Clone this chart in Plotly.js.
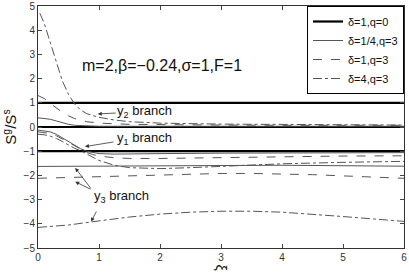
<!DOCTYPE html>
<html><head><meta charset="utf-8">
<script src="https://cdn.plot.ly/plotly-3.0.1.min.js"></script>
<style>html,body{margin:0;padding:0;background:#fff}#c{width:409px;height:273px}</style>
</head><body><div id="c"></div>
<script>
// delta=1, q=0 : three constant branches
const q0X = [0, 6];
const q0Y2 = [1, 1];
const q0Y1 = [0, 0];
const q0Y3 = [-1, -1];

// delta=1/4, q=3
const aY2x = [0,0.1,0.2,0.3,0.4,0.5,0.6,0.8,1.0,1.5,2,3,4,5,6];
const aY2y = [0.38,0.36,0.32,0.25,0.17,0.11,0.07,0.04,0.03,0.03,0.03,0.03,0.03,0.03,0.03];
const aY1x = [0,0.1,0.2,0.3,0.4,0.5,0.6,0.7,0.8,0.9,1.0,1.25,1.5,2,3,4,5,6];
const aY1y = [-0.13,-0.15,-0.2,-0.3,-0.45,-0.6,-0.76,-0.9,-1.0,-1.06,-1.1,-1.12,-1.12,-1.1,-1.08,-1.07,-1.07,-1.06];
const aY3x = [0,1,2,3,4,5,6];
const aY3y = [-1.63,-1.62,-1.6,-1.58,-1.58,-1.6,-1.62];

// delta=1, q=3
const bY2x = [0,0.1,0.2,0.3,0.4,0.5,0.6,0.8,1.0,1.5,2,3,4,5,6];
const bY2y = [1.3,1.18,0.98,0.78,0.6,0.46,0.35,0.22,0.16,0.11,0.09,0.08,0.07,0.07,0.07];
const bY1x = [0,0.1,0.2,0.3,0.4,0.5,0.6,0.7,0.8,0.9,1.0,1.25,1.5,2,3,4,5,6];
const bY1y = [-0.2,-0.22,-0.27,-0.36,-0.5,-0.65,-0.8,-0.93,-1.05,-1.14,-1.2,-1.27,-1.3,-1.3,-1.26,-1.22,-1.2,-1.19];
const bY3x = [0,0.5,1,1.5,2,2.5,3,3.5,4,4.5,5,5.5,6];
const bY3y = [-2.12,-2.09,-2.05,-2.0,-1.97,-1.94,-1.92,-1.92,-1.94,-1.97,-2.02,-2.07,-2.12];

// delta=4, q=3
const cY2x = [0.03,0.1,0.2,0.3,0.4,0.5,0.6,0.7,0.8,1.0,1.25,1.5,2,3,4,5,6];
const cY2y = [4.7,4.3,3.5,2.65,1.9,1.35,0.95,0.7,0.55,0.4,0.29,0.22,0.16,0.12,0.1,0.09,0.08];
const cY1x = [0,0.1,0.2,0.3,0.4,0.5,0.6,0.7,0.8,0.9,1.0,1.25,1.5,2,2.5,3,3.5,4,5,6];
const cY1y = [-0.3,-0.32,-0.38,-0.47,-0.6,-0.75,-0.88,-0.98,-1.1,-1.25,-1.38,-1.58,-1.68,-1.72,-1.68,-1.62,-1.56,-1.52,-1.46,-1.42];
const cY3x = [0,0.5,1,1.5,2,2.5,3,3.5,4,4.5,5,5.5,6];
const cY3y = [-4.15,-4.05,-3.88,-3.72,-3.6,-3.52,-3.48,-3.48,-3.52,-3.6,-3.7,-3.8,-3.9];

const legendNames = ['δ=1,q=0','δ=1/4,q=3','δ=1,q=3','δ=4,q=3'];
const xTicks = [0,1,2,3,4,5,6];
const yTicks = [-5,-4,-3,-2,-1,0,1,2,3,4,5];

const styles = [
  {color:'#000', width:2.2, dash:'solid'},
  {color:'#555', width:1, dash:'solid'},
  {color:'#555', width:1, dash:'dash'},
  {color:'#555', width:1, dash:'dashdot'}
];
const groups = [
  [[q0X,q0Y2],[q0X,q0Y1],[q0X,q0Y3]],
  [[aY2x,aY2y],[aY1x,aY1y],[aY3x,aY3y]],
  [[bY2x,bY2y],[bY1x,bY1y],[bY3x,bY3y]],
  [[cY2x,cY2y],[cY1x,cY1y],[cY3x,cY3y]]
];
const traces = [];
groups.forEach((g,gi)=>{
  g.forEach((s,si)=>{
    traces.push({x:s[0], y:s[1], mode:'lines', type:'scatter', name:legendNames[gi],
      legendgroup:'g'+gi, showlegend: si===0, line:styles[gi]});
  });
});

const f = 'Liberation Sans, Arial, sans-serif';
function arrow(hx,hy,tx,ty){
  return {x:hx,y:hy,ax:tx,ay:ty,axref:'x',ayref:'y',xref:'x',yref:'y',text:'',showarrow:true,
    arrowhead:2,arrowsize:1,arrowwidth:0.8,arrowcolor:'#333',standoff:0,startstandoff:0};
}
const layout = {
  width:409, height:273,
  margin:{l:38,r:5,t:6,b:25},
  paper_bgcolor:'#fff', plot_bgcolor:'#fff',
  font:{family:f, color:'#222'},
  showlegend:true,
  legend:{x:1,y:1,xanchor:'right',yanchor:'top',bgcolor:'#fff',bordercolor:'#000',borderwidth:1,
    font:{size:11,family:f,color:'#111'},tracegroupgap:0},
  xaxis:{range:[0,6],tickvals:xTicks,ticks:'inside',ticklen:4,mirror:'ticks',showline:true,
    linecolor:'#333',linewidth:1,showgrid:false,zeroline:false,tickfont:{size:10,color:'#333'}},
  yaxis:{range:[-5,5],tickvals:yTicks,ticks:'inside',ticklen:4,mirror:'ticks',showline:true,
    linecolor:'#333',linewidth:1,showgrid:false,zeroline:false,tickfont:{size:10,color:'#333'},
    title:{text:'S<sup>g</sup>/S<sup>s</sup>',font:{size:15,color:'#111'},standoff:6}},
  annotations:[
    {x:0.5,y:-0.06,xref:'paper',yref:'paper',text:'ξ',showarrow:false,textangle:90,font:{size:14,color:'#111'},yanchor:'top'},
    {x:2.03,y:2.55,xref:'x',yref:'y',text:'m=2,β=−0.24,σ=1,F=1',showarrow:false,font:{size:16,color:'#111'}},
    {x:1.75,y:0.66,xref:'x',yref:'y',text:'y<sub>2</sub> branch',showarrow:false,font:{size:13,color:'#111'}},
    {x:1.75,y:-0.47,xref:'x',yref:'y',text:'y<sub>1</sub> branch',showarrow:false,font:{size:13,color:'#111'}},
    {x:1.37,y:-2.89,xref:'x',yref:'y',text:'y<sub>3</sub> branch',showarrow:false,font:{size:13,color:'#111'}},
    arrow(0.98,0.54,1.30,0.58),
    arrow(0.77,-0.81,1.26,-0.61),
    arrow(0.61,-1.69,0.885,-2.6),
    arrow(0.61,-2.26,0.885,-2.6),
    arrow(0.87,-3.91,0.97,-3.43)
  ]
};
Plotly.newPlot('c', traces, layout, {displayModeBar:false, staticPlot:true});
</script></body></html>
